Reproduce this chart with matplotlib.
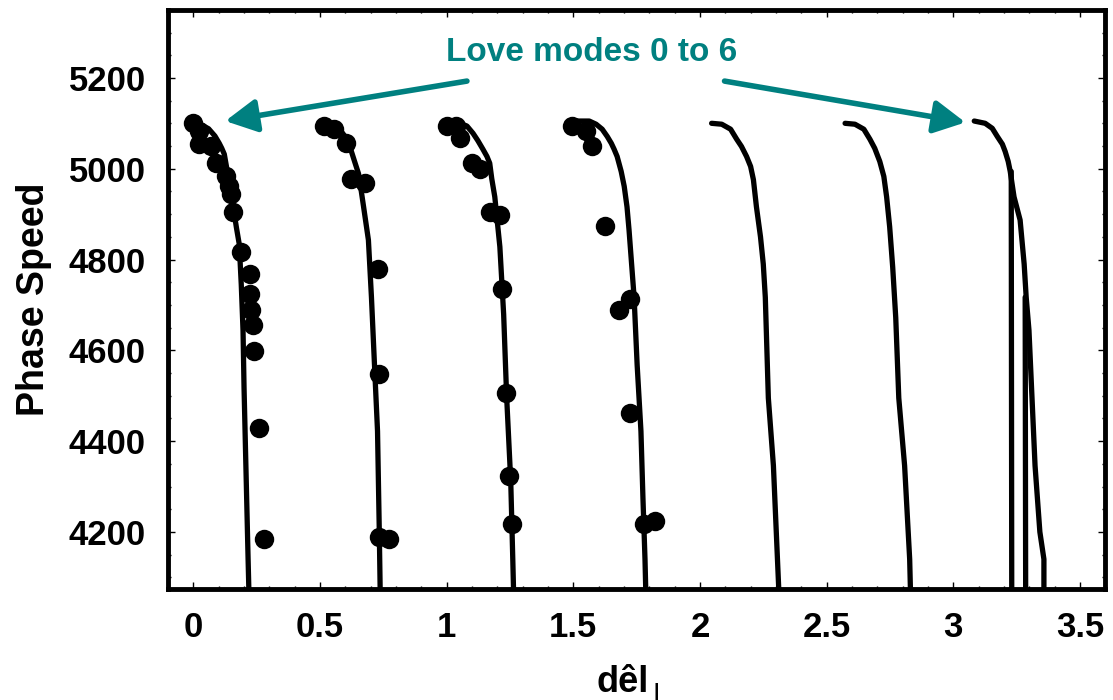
import numpy as np
import matplotlib
matplotlib.use("Agg")
import matplotlib.pyplot as plt
from matplotlib.ticker import MultipleLocator

plt.rcParams['font.family'] = ['Liberation Sans', 'DejaVu Sans']
plt.rcParams['font.weight'] = 'bold'

# model curves, one per Love mode (x = d theta / l, y = phase speed)
mode0_x = [0.0, 0.03, 0.06, 0.085, 0.102, 0.112, 0.122, 0.14, 0.157, 0.17, 0.181, 0.189,
           0.196, 0.2, 0.216, 0.22]
mode0_y = [5100, 5097, 5088, 5072, 5056, 5045, 5032, 4975, 4916, 4870, 4834, 4745,
           4643, 4517, 4140, 4050]
mode1_x = [0.52, 0.55, 0.58, 0.6, 0.612, 0.621, 0.637, 0.652, 0.663, 0.672, 0.691, 0.703,
           0.715, 0.727, 0.734, 0.738]
mode1_y = [5100, 5095, 5085, 5070, 5055, 5043, 5015, 4989, 4950, 4916, 4843, 4717,
           4568, 4422, 4200, 4050]
mode2_x = [1.002, 1.053, 1.08, 1.104, 1.123, 1.143, 1.159, 1.17, 1.178, 1.19, 1.21, 1.225,
           1.237, 1.253, 1.261, 1.265]
mode2_y = [5098, 5100, 5094, 5078, 5062, 5043, 5027, 5012, 4978, 4938, 4828, 4679,
           4495, 4311, 4140, 4050]
mode3_x = [1.504, 1.563, 1.59, 1.614, 1.634, 1.65, 1.661, 1.673, 1.689, 1.701, 1.712, 1.72,
           1.74, 1.752, 1.767, 1.775, 1.783, 1.787]
mode3_y = [5105, 5105, 5098, 5087, 5071, 5056, 5043, 5027, 4994, 4961, 4916, 4865,
           4717, 4568, 4422, 4273, 4140, 4050]
mode4_x = [2.046, 2.086, 2.121, 2.145, 2.164, 2.184, 2.2, 2.211, 2.223, 2.239, 2.25, 2.258,
           2.27, 2.29, 2.306, 2.313]
mode4_y = [5100, 5098, 5087, 5065, 5049, 5027, 5005, 4976, 4916, 4850, 4790, 4717,
           4495, 4346, 4140, 4050]
mode5_x = [2.573, 2.612, 2.647, 2.671, 2.69, 2.71, 2.726, 2.737, 2.749, 2.761, 2.773, 2.785,
           2.808, 2.828, 2.832]
mode5_y = [5100, 5098, 5087, 5065, 5045, 5016, 4983, 4938, 4872, 4783, 4672, 4495,
           4346, 4140, 4050]
mode6_x = [3.083, 3.126, 3.154, 3.174, 3.194, 3.205, 3.217, 3.225, 3.24, 3.264, 3.28, 3.288,
           3.299, 3.311, 3.323, 3.342, 3.358, 3.358]
mode6_y = [5105, 5100, 5089, 5071, 5054, 5038, 5016, 4994, 4938, 4887, 4790, 4717,
           4644, 4495, 4346, 4200, 4140, 4050]
# two straight branches that split off mode 6
branch_a_x = [3.229, 3.231]
branch_a_y = [4994, 4050]
branch_b_x = [3.284, 3.286]
branch_b_y = [4717, 4050]

# measured points
obs_x = [0.0, 0.024, 0.024, 0.071, 0.09, 0.13, 0.141, 0.149, 0.157, 0.189, 0.224, 0.224,
         0.228, 0.236, 0.24, 0.259, 0.279,
         0.515, 0.554, 0.601, 0.621, 0.679, 0.727, 0.734, 0.734, 0.774,
         1.002, 1.035, 1.053, 1.1, 1.131, 1.17, 1.21, 1.218, 1.233, 1.245, 1.257,
         1.496, 1.551, 1.575, 1.626, 1.724, 1.681, 1.724, 1.779, 1.822]
obs_y = [5100, 5082, 5054, 5049, 5012, 4983, 4961, 4945, 4905, 4816, 4768, 4723,
         4688, 4655, 4599, 4428, 4185,
         5094, 5087, 5056, 4978, 4969, 4779, 4548, 4189, 4185,
         5094, 5094, 5067, 5012, 5000, 4905, 4898, 4734, 4506, 4324, 4218,
         5094, 5082, 5049, 4874, 4712, 4688, 4462, 4218, 4225]

teal = '#008080'

fig = plt.figure(figsize=(11.13, 7.0), dpi=100)
ax = fig.add_axes([0.151, 0.159, 0.842, 0.827])

curves = [(mode0_x, mode0_y), (mode1_x, mode1_y), (mode2_x, mode2_y), (mode3_x, mode3_y),
          (mode4_x, mode4_y), (mode5_x, mode5_y), (mode6_x, mode6_y),
          (branch_a_x, branch_a_y), (branch_b_x, branch_b_y)]
for cx, cy in curves:
    ax.plot(cx, cy, color='black', lw=3.8, solid_capstyle='round', solid_joinstyle='round')

ax.plot(obs_x, obs_y, 'o', color='black', markersize=14, markeredgewidth=0)

ax.set_xlim(-0.1, 3.6)
ax.set_ylim(4075, 5350)
ax.xaxis.set_major_locator(MultipleLocator(0.5))
ax.xaxis.set_minor_locator(MultipleLocator(0.1))
ax.yaxis.set_major_locator(MultipleLocator(200))
ax.yaxis.set_minor_locator(MultipleLocator(50))
ax.xaxis.set_major_formatter(plt.FuncFormatter(lambda v, p: ('%g' % v)))
ax.tick_params(which='both', direction='in', top=True, right=True, labelsize=25, width=1)
ax.tick_params(which='major', length=5)
ax.tick_params(which='minor', length=2.5)
ax.tick_params(axis='x', pad=16)
ax.tick_params(axis='y', pad=16)
for s in ax.spines.values():
    s.set_linewidth(3.5)

ax.set_ylabel('Phase Speed', fontsize=27, fontweight='bold', labelpad=12)

# garbled axis label from the original
fig.text(0.559, 0.012, 'dêl', fontsize=26, fontweight='bold', ha='center', va='baseline')
fig.text(0.590, 0.006, '|', fontsize=14, fontweight='bold', ha='center', va='baseline')

ax.text(1.571, 5255, 'Love modes 0 to 6', color=teal, fontsize=24, fontweight='bold',
        ha='center', va='center')
arrow_kw = dict(arrowstyle='-|>,head_length=0.95,head_width=0.5', color=teal, lw=4,
                mutation_scale=20, shrinkA=0, shrinkB=0)
ax.annotate('', xy=(0.126, 5105), xytext=(1.08, 5193), arrowprops=arrow_kw)
ax.annotate('', xy=(3.048, 5102), xytext=(2.097, 5193), arrowprops=arrow_kw)

fig.savefig('out.png', dpi=100)
